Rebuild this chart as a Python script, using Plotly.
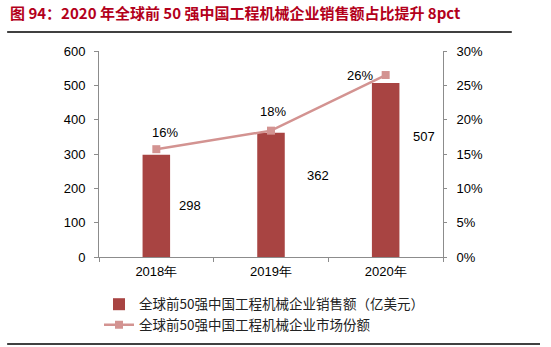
import plotly.graph_objects as go

# Data
years = ["2018年", "2019年", "2020年"]
sales = [298, 362, 507]            # 销售额（亿美元）
share = [0.157, 0.184, 0.265]      # 市场份额

bar_name = "全球前50强中国工程机械企业销售额（亿美元）"
line_name = "全球前50强中国工程机械企业市场份额"
title_text = "图&nbsp;94：2020 年全球前 50 强中国工程机械企业销售额占比提升 8pct"

# Styles
BAR_COLOR = "#A84442"
LINE_COLOR = "#D39391"
AXIS_COLOR = "#8C8C8C"
TITLE_COLOR = "#B3001B"
FONT = "Liberation Sans, Arial, sans-serif"
CJK = "Noto Sans CJK SC, sans-serif"

# Label offsets in pixels (dx, dy) relative to bar top / marker
bar_label_offsets = [(34, -51), (47, -43), (38, -54)]
pct_label_offsets = [(9, 17), (2, 19), (-26, 0)]

fig = go.Figure()

fig.add_trace(go.Bar(
    x=years, y=sales, name=bar_name,
    marker=dict(color=BAR_COLOR, line=dict(width=0)),
    width=0.24, yaxis="y",
))

fig.add_trace(go.Scatter(
    x=years, y=share, name=line_name, yaxis="y2",
    mode="lines+markers",
    line=dict(color=LINE_COLOR, width=2.5),
    marker=dict(symbol="square", size=8, color=LINE_COLOR),
))

annotations = []
for yr, v, (dx, dy) in zip(years, sales, bar_label_offsets):
    annotations.append(dict(
        x=yr, y=v, xref="x", yref="y", text=str(v), showarrow=False,
        xshift=dx, yshift=dy, font=dict(family=FONT, size=13, color="#000")))
for yr, v, (dx, dy) in zip(years, share, pct_label_offsets):
    annotations.append(dict(
        x=yr, y=v, xref="x", yref="y2", text=f"{v:.0%}", showarrow=False,
        xshift=dx, yshift=dy, font=dict(family=FONT, size=13, color="#000")))

# Title
annotations.append(dict(
    x=-0.264, y=1.185, xref="paper", yref="paper", xanchor="left", yanchor="middle",
    text=f"<b>{title_text}</b>", showarrow=False,
    font=dict(family=CJK, size=15, color=TITLE_COLOR)))

shapes = [
    dict(type="line", xref="paper", yref="paper", x0=-0.267, x1=1.2, y0=1.092, y1=1.092,
         line=dict(color="#000", width=1.5)),
    dict(type="line", xref="paper", yref="paper", x0=-0.267, x1=1.282, y0=-0.422, y1=-0.422,
         line=dict(color="#000", width=1.5)),
]

fig.update_layout(
    width=551, height=347,
    margin=dict(l=99, r=108, t=51, b=90, autoexpand=False),
    paper_bgcolor="white", plot_bgcolor="white",
    showlegend=True,
    legend=dict(
        x=0.0, y=-0.155, xanchor="left", yanchor="top",
        font=dict(family=CJK, size=13.5, color="#222"),
        bgcolor="rgba(0,0,0,0)", tracegroupgap=0, itemwidth=30,
    ),
    xaxis=dict(
        type="category", showline=True, linecolor=AXIS_COLOR, linewidth=1,
        ticks="outside", tickson="boundaries", ticklen=4, tickcolor=AXIS_COLOR,
        ticklabelstandoff=2,
        tickfont=dict(family=FONT, size=13, color="#000"),
        showgrid=False, zeroline=False,
    ),
    yaxis=dict(
        range=[0, 600], dtick=100, showline=True, linecolor=AXIS_COLOR, linewidth=1,
        ticks="outside", ticklen=4, tickcolor=AXIS_COLOR, ticklabelstandoff=6,
        tickfont=dict(family=FONT, size=13, color="#000"),
        showgrid=False, zeroline=False,
    ),
    yaxis2=dict(
        range=[0, 0.30], dtick=0.05, tickformat=".0%", overlaying="y", side="right",
        showline=True, linecolor=AXIS_COLOR, linewidth=1,
        ticks="outside", ticklen=3, tickcolor=AXIS_COLOR, ticklabelstandoff=7,
        tickfont=dict(family=FONT, size=13, color="#000"),
        showgrid=False, zeroline=False,
    ),
    annotations=annotations,
    shapes=shapes,
)

fig.write_html("out.html")
